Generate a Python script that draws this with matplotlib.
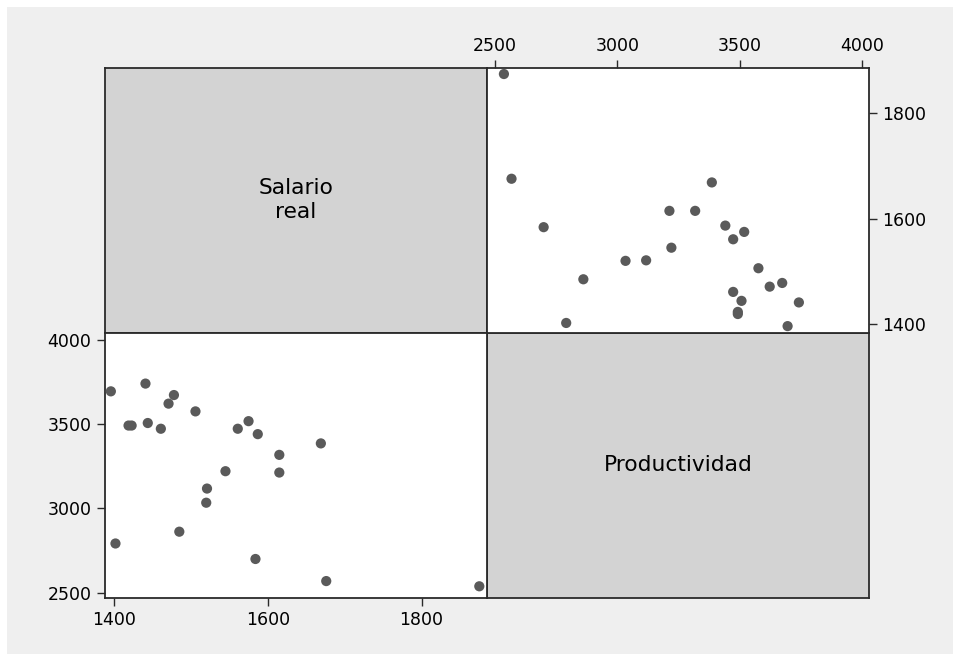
import matplotlib
matplotlib.use("Agg")
import matplotlib.pyplot as plt
from matplotlib.patches import Rectangle

# Data: (Salario real, Productividad) pairs
salario = [1875, 1676, 1584, 1615, 1545, 1520, 1521, 1485, 1402, 1669, 1615, 1587,
           1575, 1561, 1506, 1478, 1471, 1461, 1444, 1441, 1419, 1423, 1396]
productividad = [2538, 2569, 2700, 3213, 3221, 3034, 3118, 2862, 2792, 3386, 3318, 3441,
                 3518, 3473, 3576, 3673, 3622, 3473, 3507, 3741, 3492, 3492, 3695]
var_names = ["Salario\nreal", "Productividad"]
sal_ticks = [1400, 1600, 1800]
prod_ticks = [2500, 3000, 3500, 4000]

W, H = 954, 654
fig = plt.figure(figsize=(W / 100, H / 100), dpi=100, facecolor="white")
fig.patches.append(Rectangle((7 / W, 0), 1 - 7 / W, 1 - 7 / H, transform=fig.transFigure,
                             facecolor="#efefef", edgecolor="none", zorder=-10))

plt.rcParams["font.family"] = ["DejaVu Sans"]

x0, x1, x2 = 104.7, 487.0, 869.0
y0, y1, y2 = 67.7, 332.7, 598.0


def rect(xa, xb, ya, yb):
    return [xa / W, 1 - yb / H, (xb - xa) / W, (yb - ya) / H]


edge = "#2a2a2a"
gray = "#d3d3d3"
mcol = "#5a5a5a"
tick_fs = 12.5


def style(ax):
    for s in ax.spines.values():
        s.set_color(edge)
        s.set_linewidth(1.3)
    ax.tick_params(length=5.5, width=1.0, color=edge, labelsize=tick_fs, pad=4, labelcolor="black")


# top-left label cell
ax_tl = fig.add_axes(rect(x0, x1, y0, y1))
ax_tl.set_facecolor(gray)
ax_tl.set_xticks([]); ax_tl.set_yticks([])
style(ax_tl)
ax_tl.text(0.5, 0.5, var_names[0], ha="center", va="center", fontsize=15.7,
           linespacing=1.25, transform=ax_tl.transAxes)

# bottom-right label cell
ax_br = fig.add_axes(rect(x1, x2, y1, y2))
ax_br.set_facecolor(gray)
ax_br.set_xticks([]); ax_br.set_yticks([])
style(ax_br)
ax_br.text(0.5, 0.5, var_names[1], ha="center", va="center", fontsize=15.7,
           transform=ax_br.transAxes)

# top-right scatter: x = Productividad, y = Salario real
ax_tr = fig.add_axes(rect(x1, x2, y0, y1))
ax_tr.set_facecolor("white")
ax_tr.scatter(productividad, salario, s=54, color=mcol, edgecolors="none", zorder=3)
ax_tr.set_xlim(2469, 4027)
ax_tr.set_ylim(1383.5, 1887)
ax_tr.set_xticks(prod_ticks)
ax_tr.set_yticks(sal_ticks)
ax_tr.xaxis.tick_top()
ax_tr.yaxis.tick_right()
style(ax_tr)

# bottom-left scatter: x = Salario real, y = Productividad
ax_bl = fig.add_axes(rect(x0, x1, y1, y2))
ax_bl.set_facecolor("white")
ax_bl.scatter(salario, productividad, s=54, color=mcol, edgecolors="none", zorder=3)
ax_bl.set_xlim(1388, 1885)
ax_bl.set_ylim(2468.5, 4043)
ax_bl.set_xticks(sal_ticks)
ax_bl.set_yticks(prod_ticks)
style(ax_bl)

fig.savefig("out.png", dpi=100, facecolor=fig.get_facecolor())
